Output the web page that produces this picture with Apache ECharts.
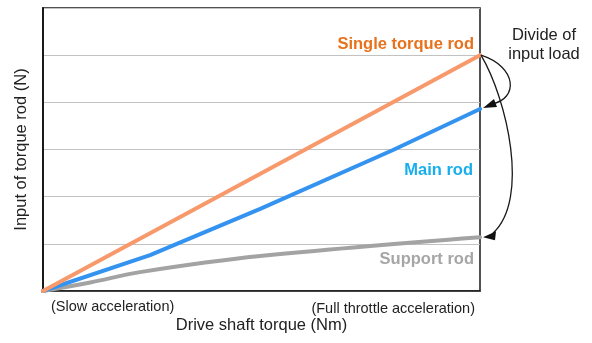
<!DOCTYPE html>
<html>
<head>
<meta charset="utf-8">
<script src="https://cdn.jsdelivr.net/npm/echarts@6/dist/echarts.min.js"></script>
<style>html,body{margin:0;padding:0;background:#fff;}#c{width:592px;height:343px;}</style>
</head>
<body>
<div id="c"></div>
<script>
// Data (relative units)
const singleX = [0, 10];
const singleY = [0, 5];
const mainX = [0, 2.45, 4.97, 8.01, 10];
const mainY = [0, 0.76, 1.74, 2.99, 3.86];
const supportX = [0, 1.08, 2.22, 4.97, 10];
const supportY = [0, 0.18, 0.40, 0.74, 1.14];
const seriesNames = ['Single torque rod', 'Main rod', 'Support rod'];
const xEndLabels = ['(Slow acceleration)', '(Full throttle acceleration)'];
const xTitle = 'Drive shaft torque (Nm)';
const yTitle = 'Input of torque rod (N)';
const noteText = 'Divide of\ninput load';

const FONT = "'Liberation Sans', Arial, sans-serif";
const zip = (xs, ys) => xs.map((x, i) => [x, ys[i]]);

const chart = echarts.init(document.getElementById('c'), null, {renderer: 'canvas'});
chart.setOption({
  animation: false,
  grid: {left: 43, right: 112, top: 8, bottom: 52, show: true, borderColor: '#1a1a1a', borderWidth: 1.5},
  xAxis: {
    type: 'value', min: 0, max: 10,
    name: xTitle, nameLocation: 'middle', nameGap: 26,
    nameTextStyle: {fontFamily: FONT, fontSize: 16.5, color: '#222'},
    axisLine: {show: true, lineStyle: {color: '#1a1a1a', width: 1.5}},
    axisTick: {show: false}, axisLabel: {show: false}, splitLine: {show: false}
  },
  yAxis: {
    type: 'value', min: 0, max: 6, interval: 1,
    name: yTitle, nameLocation: 'middle', nameGap: 13,
    nameTextStyle: {fontFamily: FONT, fontSize: 16.5, color: '#222'},
    axisLine: {show: true, lineStyle: {color: '#1a1a1a', width: 2}},
    axisTick: {show: false}, axisLabel: {show: false},
    splitLine: {show: true, lineStyle: {color: '#c2c2c2', width: 1}}
  },
  series: [
    {name: seriesNames[2], type: 'line', data: zip(supportX, supportY), symbol: 'none', smooth: 0.35,
     lineStyle: {color: '#a3a3a3', width: 4, cap: 'round', join: 'round'}, z: 2},
    {name: seriesNames[1], type: 'line', data: zip(mainX, mainY), symbol: 'none', smooth: false,
     lineStyle: {color: '#3593f0', width: 4, cap: 'round', join: 'round'}, z: 3},
    {name: seriesNames[0], type: 'line', data: zip(singleX, singleY), symbol: 'none', smooth: false,
     lineStyle: {color: '#f7996b', width: 4, cap: 'round', join: 'round'}, z: 4}
  ]
});

const p0 = chart.convertToPixel({gridIndex: 0}, [singleX[singleX.length - 1], singleY[singleY.length - 1]]);
const pM = chart.convertToPixel({gridIndex: 0}, [mainX[mainX.length - 1], mainY[mainY.length - 1]]);
const pS = chart.convertToPixel({gridIndex: 0}, [supportX[supportX.length - 1], supportY[supportY.length - 1]]);
const pO = chart.convertToPixel({gridIndex: 0}, [0, 0]);
const xr = p0[0];

function txt(x, y, text, align, fill, size, weight) {
  return {type: 'text', x: x, y: y, z: 100, silent: true,
    style: {text: text, fill: fill, font: (weight || 'normal') + ' ' + size + 'px ' + FONT,
      textAlign: align, textVerticalAlign: 'middle', lineHeight: 19}};
}

const ax = p0[0] + 1, ay = p0[1];
const m1 = [pM[0] + 3, pM[1] - 1];
const m2 = [pS[0] + 3, pS[1]];

chart.setOption({
  graphic: [
    txt(xr - 6, p0[1] - 11, seriesNames[0], 'right', '#e8721c', 16.5, 'bold'),
    txt(xr - 7, pM[1] + 62, seriesNames[1], 'right', '#18aeee', 16.5, 'bold'),
    txt(xr - 6, pS[1] + 22, seriesNames[2], 'right', '#a6a6a6', 16.5, 'bold'),
    txt(xr + 64, 44.5, noteText, 'center', '#222', 16.5),
    txt(pO[0] + 8, pO[1] + 16, xEndLabels[0], 'left', '#222', 14.5),
    txt(xr - 5, pO[1] + 18, xEndLabels[1], 'right', '#222', 14.5),
    {type: 'bezierCurve', z: 100, silent: true,
     shape: {x1: ax, y1: ay, cpx1: ax + 37, cpy1: ay + 12, cpx2: ax + 37, cpy2: ay + 44, x2: m1[0] + 9, y2: m1[1] - 4},
     style: {stroke: '#1a1a1a', lineWidth: 1.3, fill: null}},
    {type: 'polygon', z: 100, silent: true,
     shape: {points: [[m1[0], m1[1]], [m1[0] + 11, m1[1] - 9], [m1[0] + 14, m1[1] - 1]]},
     style: {fill: '#111'}},
    {type: 'bezierCurve', z: 100, silent: true,
     shape: {x1: ax, y1: ay, cpx1: ax + 26, cpy1: ay + 44, cpx2: ax + 49, cpy2: ay + 144, x2: m2[0] + 10, y2: m2[1] - 4},
     style: {stroke: '#1a1a1a', lineWidth: 1.3, fill: null}},
    {type: 'polygon', z: 100, silent: true,
     shape: {points: [[m2[0], m2[1]], [m2[0] + 13, m2[1] - 6], [m2[0] + 12, m2[1] + 3]]},
     style: {fill: '#111'}}
  ]
});
</script>
</body>
</html>
